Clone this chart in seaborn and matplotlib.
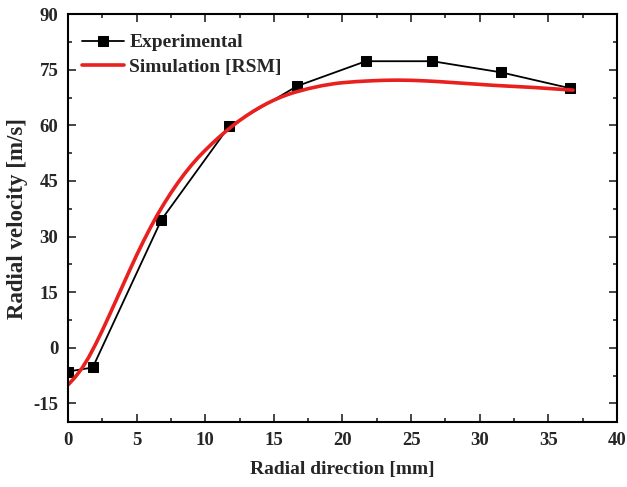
import matplotlib
matplotlib.use("Agg")
import matplotlib.pyplot as plt
import seaborn as sns
import pandas as pd
from matplotlib.ticker import MultipleLocator

# Measured radial velocity profile
exp_x = [0.0, 1.8, 6.8, 11.75, 16.7, 21.7, 26.55, 31.55, 36.6]
exp_y = [-6.4, -5.3, 34.5, 59.8, 70.6, 77.3, 77.3, 74.3, 70.0]

# RSM simulation profile
sim_x = [0.0, 0.5, 1.0, 1.5, 2.0, 2.5, 3.0, 3.5, 4.0, 4.5, 5.0, 5.5, 6.0, 6.5,
         7.0, 7.5, 8.0, 8.5, 9.0, 9.5, 10.0, 10.5, 11.0, 11.5, 12.0, 12.5,
         13.0, 13.5, 14.0, 14.5, 15.0, 15.5, 16.0, 16.5, 17.0, 17.5, 18.0,
         18.5, 19.0, 19.5, 20.0, 21.0, 22.0, 23.0, 24.0, 25.0, 26.0, 27.0,
         28.0, 29.0, 30.0, 31.0, 32.0, 33.0, 34.0, 35.0, 36.0, 36.8]
sim_y = [-10.0, -8.0, -5.6, -2.6, 0.9, 4.7, 8.7, 12.8, 16.9, 21.0, 25.0, 28.8,
         32.4, 35.8, 38.9, 41.8, 44.5, 47.0, 49.3, 51.4, 53.3, 55.1, 56.8,
         58.4, 59.9, 61.3, 62.6, 63.8, 64.9, 65.9, 66.8, 67.6, 68.3, 68.9,
         69.4, 69.9, 70.3, 70.7, 71.0, 71.3, 71.5, 71.8, 72.0, 72.15, 72.2,
         72.15, 72.0, 71.8, 71.55, 71.3, 71.05, 70.8, 70.6, 70.4, 70.2,
         69.95, 69.7, 69.5]

x_ticks = [0, 5, 10, 15, 20, 25, 30, 35, 40]
y_ticks = [-15, 0, 15, 30, 45, 60, 75, 90]

sns.set_style("ticks")
plt.rcParams["font.family"] = ["Liberation Serif", "DejaVu Serif"]
plt.rcParams["font.weight"] = "bold"
plt.rcParams["axes.unicode_minus"] = False

exp_df = pd.DataFrame({"x": exp_x, "y": exp_y})
sim_df = pd.DataFrame({"x": sim_x, "y": sim_y})

fig = plt.figure(figsize=(6.27, 4.87), dpi=100)
ax = fig.add_axes([0.1085, 0.1335, 0.8755, 0.8375])

sns.lineplot(data=exp_df, x="x", y="y", ax=ax, color="black", linewidth=1.3,
             marker="s", markersize=7, markeredgecolor="black",
             label="Experimental", sort=False)
sns.lineplot(data=sim_df, x="x", y="y", ax=ax, color="#e8201e", linewidth=2.6,
             label="Simulation [RSM]", sort=False)

ax.set_xlim(0, 40)
ax.set_ylim(-20, 90)
ax.set_xticks(x_ticks)
ax.set_yticks(y_ticks)
ax.xaxis.set_minor_locator(MultipleLocator(2.5))
ax.yaxis.set_minor_locator(MultipleLocator(7.5))
ax.tick_params(which="both", direction="in", top=True, right=True, width=1.2)
ax.tick_params(which="major", length=6, labelsize=13.5, pad=7)
ax.tick_params(which="minor", length=3)
for lbl in ax.get_xticklabels() + ax.get_yticklabels():
    lbl.set_fontweight("bold")
for sp in ax.spines.values():
    sp.set_linewidth(1.5)
    sp.set_color("black")

ax.set_xlabel("Radial direction [mm]", fontsize=14, fontweight="bold", labelpad=9)
ax.set_ylabel("Radial velocity [m/s]", fontsize=16.5, fontweight="bold", labelpad=4)

leg = ax.legend(loc="upper left", frameon=False, prop={"weight": "bold", "size": 14},
                handlelength=2.2, handletextpad=0.25, borderaxespad=0.3,
                labelspacing=0.35, bbox_to_anchor=(0.0, 0.985))

fig.savefig("out.png", dpi=100)
